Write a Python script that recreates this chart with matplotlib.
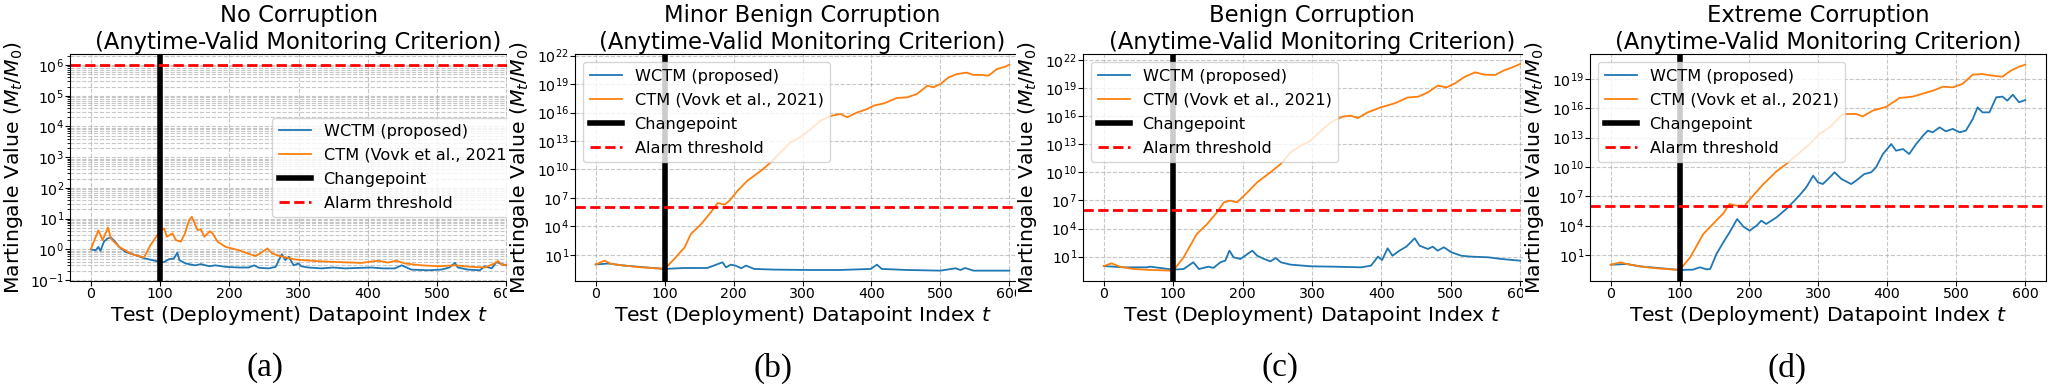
import matplotlib
matplotlib.use("Agg")
import matplotlib.pyplot as plt
import numpy as np
from matplotlib.transforms import Bbox

# ---------------- data (log10 of martingale value) ----------------
a_wctm_t = [0, 7, 11, 14, 19, 24, 29, 34, 41, 50, 65, 79, 89, 100, 106, 113, 120, 125, 128, 137,
            151, 159, 171, 180, 195, 214, 228, 236, 243, 257, 267, 272, 276, 281, 286, 293, 300, 304, 314, 333,
            350, 367, 405, 422, 439, 449, 463, 487, 506, 518, 526, 530, 545, 562, 569, 579, 586, 591, 600]
a_wctm_logv = [0, -0.03, 0.08, -0.05, 0.25, 0.35, 0.39, 0.28, 0.08, -0.08, -0.19, -0.30, -0.35, -0.41, -0.41, -0.32, -0.30, -0.11, -0.35, -0.46,
               -0.52, -0.48, -0.55, -0.52, -0.57, -0.59, -0.59, -0.52, -0.60, -0.62, -0.57, -0.33, -0.16, -0.35, -0.24, -0.52, -0.46, -0.55, -0.59, -0.62,
               -0.59, -0.62, -0.59, -0.62, -0.62, -0.52, -0.66, -0.68, -0.66, -0.59, -0.44, -0.59, -0.66, -0.68, -0.55, -0.62, -0.41, -0.46, -0.52]
a_ctm_t = [0, 11, 17, 25, 29, 41, 60, 77, 86, 96, 100, 106, 110, 118, 123, 130, 136, 142, 146, 149,
           154, 159, 164, 172, 176, 183, 195, 204, 214, 224, 238, 248, 255, 262, 269, 281, 295, 324, 352, 391,
           415, 429, 441, 454, 478, 502, 526, 550, 569, 583, 588, 595, 600]
a_ctm_logv = [0, 0.62, 0.30, 0.71, 0.35, 0.08, -0.16, -0.26, 0.13, 0.46, 0.60, 0.68, 0.41, 0.52, 0.30, 0.25, 0.52, 0.95, 1.06, 0.90,
              0.63, 0.65, 0.41, 0.59, 0.52, 0.25, 0.08, 0.03, -0.03, -0.11, -0.22, -0.08, 0.03, -0.13, -0.19, -0.26, -0.33, -0.38, -0.41, -0.44,
              -0.37, -0.43, -0.37, -0.46, -0.52, -0.55, -0.52, -0.57, -0.59, -0.46, -0.38, -0.52, -0.50]

b_wctm_t = [0, 18, 42, 100, 129, 162, 184, 189, 196, 203, 211, 218, 230, 259, 307, 355, 399, 408, 415, 452,
            500, 522, 529, 536, 548, 600]
b_wctm_logv = [0, 0.10, -0.12, -0.47, -0.37, -0.37, 0.23, -0.30, -0.02, -0.12, -0.40, -0.12, -0.47, -0.54, -0.58, -0.58, -0.47, -0.02, -0.47, -0.58,
               -0.65, -0.40, -0.58, -0.37, -0.65, -0.65]
b_ctm_t = [0, 13, 23, 42, 66, 100, 114, 129, 138, 153, 167, 177, 187, 194, 206, 220, 240, 254, 268, 283,
           297, 312, 326, 343, 355, 365, 379, 394, 403, 418, 437, 452, 466, 481, 490, 500, 512, 524, 538, 548,
           560, 570, 582, 594, 600]
b_ctm_logv = [0, 0.40, 0.05, -0.12, -0.30, -0.47, 0.58, 1.80, 3.20, 4.26, 5.49, 6.47, 6.30, 6.72, 7.77, 8.82, 9.88, 10.75, 11.80, 12.86,
              13.40, 14.26, 15.14, 15.67, 15.84, 15.50, 16.00, 16.37, 16.72, 16.96, 17.53, 17.60, 17.95, 18.82, 18.65, 19.00, 19.70, 20.05, 20.20, 19.96,
              19.96, 19.88, 20.58, 20.82, 21.04]

c_wctm_t = [0, 28, 62, 67, 100, 115, 129, 137, 151, 158, 168, 175, 181, 187, 197, 207, 214, 221, 231, 240,
            248, 255, 269, 298, 332, 371, 385, 395, 401, 409, 416, 426, 436, 448, 455, 467, 474, 481, 490, 501,
            515, 530, 554, 573, 600]
c_wctm_logv = [0, -0.14, -0.14, -0.07, -0.39, -0.32, 0.40, -0.32, -0.07, -0.20, 0.40, 0.57, 1.64, 0.93, 0.75, 1.28, 1.64, 1.10, 0.75, 0.50,
               0.86, 0.40, 0.15, -0.03, -0.07, -0.14, 0.04, 1.00, 0.64, 1.89, 1.10, 1.64, 2.07, 2.96, 2.17, 1.82, 2.07, 1.64, 2.00, 1.46,
               1.10, 1.00, 0.93, 0.75, 0.57]
c_ctm_t = [0, 11, 23, 43, 67, 100, 115, 134, 149, 163, 173, 182, 192, 207, 221, 240, 255, 269, 284, 298,
           308, 327, 344, 356, 366, 380, 399, 419, 438, 453, 467, 481, 494, 506, 520, 535, 549, 564, 576, 588, 600]
c_ctm_logv = [0, 0.29, -0.07, -0.32, -0.42, -0.50, 0.93, 3.42, 4.49, 5.73, 6.80, 6.98, 6.80, 7.87, 8.94, 10.00, 10.90, 12.14, 12.85, 13.38,
              14.10, 15.34, 15.95, 16.05, 15.80, 16.40, 16.94, 17.37, 18.00, 18.08, 18.54, 19.26, 19.08, 19.50, 20.20, 20.68, 20.43, 20.40, 20.86, 21.20, 21.57]

d_wctm_t = [0, 23, 42, 100, 119, 129, 139, 144, 153, 163, 172, 183, 192, 201, 211, 218, 225, 240, 254, 266,
            274, 283, 293, 300, 307, 317, 324, 334, 348, 355, 367, 377, 384, 394, 406, 413, 423, 432, 442, 452,
            459, 466, 476, 485, 495, 505, 514, 524, 531, 538, 548, 558, 567, 574, 582, 591, 600]
d_wctm_logv = [0, 0.08, -0.16, -0.53, -0.50, -0.26, -0.47, -0.43, 1.10, 2.30, 3.32, 4.68, 3.90, 3.49, 4.00, 4.51, 4.17, 4.85, 5.70, 6.56,
               7.17, 7.92, 9.11, 8.43, 8.26, 8.94, 9.46, 8.77, 8.26, 8.60, 9.28, 9.46, 9.97, 11.33, 12.35, 11.67, 11.84, 11.33, 12.35, 13.20,
               13.72, 13.55, 14.06, 13.65, 13.90, 13.55, 13.72, 14.91, 16.10, 15.59, 15.59, 17.13, 17.20, 16.79, 17.40, 16.62, 16.85]
d_ctm_t = [0, 14, 23, 42, 66, 100, 115, 134, 148, 163, 172, 182, 194, 206, 221, 240, 254, 274, 288, 302,
           317, 336, 355, 365, 379, 399, 418, 437, 466, 481, 495, 509, 524, 538, 553, 567, 579, 591, 600]
d_ctm_logv = [0, 0.25, 0.08, -0.16, -0.36, -0.53, 0.76, 3.15, 4.17, 5.26, 6.22, 6.05, 6.05, 7.07, 8.26, 9.56, 10.30, 11.50, 12.35, 13.38,
              14.06, 15.42, 15.42, 15.18, 15.76, 16.17, 17.06, 17.20, 17.80, 18.22, 18.15, 18.50, 19.45, 19.51, 19.34, 19.24, 19.85, 20.26, 20.47]

titles = ["No Corruption", "Minor Benign Corruption", "Benign Corruption", "Extreme Corruption"]
subtitle = "(Anytime-Valid Monitoring Criterion)"
captions = ["(a)", "(b)", "(c)", "(d)"]
changepoint = 100
alarm_threshold = 1e6
xticks = [0, 100, 200, 300, 400, 500, 600]
ytick_exps = [list(range(-1, 7)), list(range(1, 23, 3)), list(range(1, 23, 3)), list(range(1, 20, 3))]
ylim_exps = [(-1.03, 6.36), (-1.74, 22.16), (-1.6, 22.64), (-1.66, 21.56)]
legend_locs = ["center right", "upper left", "upper left", "upper left"]

series = [
    (a_wctm_t, a_wctm_logv, a_ctm_t, a_ctm_logv),
    (b_wctm_t, b_wctm_logv, b_ctm_t, b_ctm_logv),
    (c_wctm_t, c_wctm_logv, c_ctm_t, c_ctm_logv),
    (d_wctm_t, d_wctm_logv, d_ctm_t, d_ctm_logv),
]

# ---------------- layout (pixels) ----------------
W, H = 2053, 388
fig = plt.figure(figsize=(W / 100, H / 100), dpi=100)
axes_px = [(70, 527), (575, 1030), (1083, 1541), (1590, 2046)]
ax_top, ax_bot = 54, 281
clip_px = [(0, 507), (507, 1016), (1016, 1523), (1523, W)]
caption_x = [265, 773, 1280, 1787]

axes = []
for i in range(4):
    l, r = axes_px[i]
    ax = fig.add_axes([l / W, 1 - ax_bot / H, (r - l) / W, (ax_bot - ax_top) / H])
    wt, wv, ct, cv = series[i]
    ax.plot(wt, 10.0 ** np.array(wv), color="#1f77b4", lw=1.3, label="WCTM (proposed)")
    ax.plot(ct, 10.0 ** np.array(cv), color="#ff7f0e", lw=1.3, label="CTM (Vovk et al., 2021)")
    ax.axvline(changepoint, color="black", lw=4, label="Changepoint")
    ax.axhline(alarm_threshold, color="red", ls="--", lw=2, label="Alarm threshold")
    ax.set_yscale("log")
    ax.set_xlim(-30, 630)
    ax.set_ylim(10.0 ** ylim_exps[i][0], 10.0 ** ylim_exps[i][1])
    ax.set_yticks([10.0 ** e for e in ytick_exps[i]])
    ax.set_xticks(xticks)
    ax.tick_params(labelsize=10.2, pad=0.8)
    ax.grid(True, which="both", ls="--", lw=0.8, alpha=0.7)
    ax.set_xlabel("Test (Deployment) Datapoint Index $t$", fontsize=14.7, labelpad=2)
    ax.set_ylabel("Martingale Value ($M_t/M_0$)", fontsize=14.7)
    ax.set_title(titles[i] + "\n" + subtitle, fontsize=16.3, pad=3, linespacing=1.22)
    ax.legend(loc=legend_locs[i], fontsize=11.6, labelspacing=0.56)
    fig.text(caption_x[i] / W, (H - 368) / H, captions[i], family="Liberation Serif",
             fontsize=24, ha="center", va="center")
    axes.append(ax)

# crop each panel to its own strip, like the cropped subfigures of the original
fig.canvas.draw()
for ax, (x0, x1) in zip(axes, clip_px):
    strip = Bbox.from_extents(x0, 0, x1, H)
    for art in ax.findobj():
        if art is ax:
            continue
        cb = art.get_clip_box()
        if cb is not None:
            new = Bbox.intersection(Bbox(cb.get_points()), strip)
            if new is None:
                new = Bbox.from_extents(x0, 0, x0, 0)
        else:
            new = strip
        art.set_clip_box(new)
        art.set_clip_on(True)

fig.savefig("out.png", dpi=100)
